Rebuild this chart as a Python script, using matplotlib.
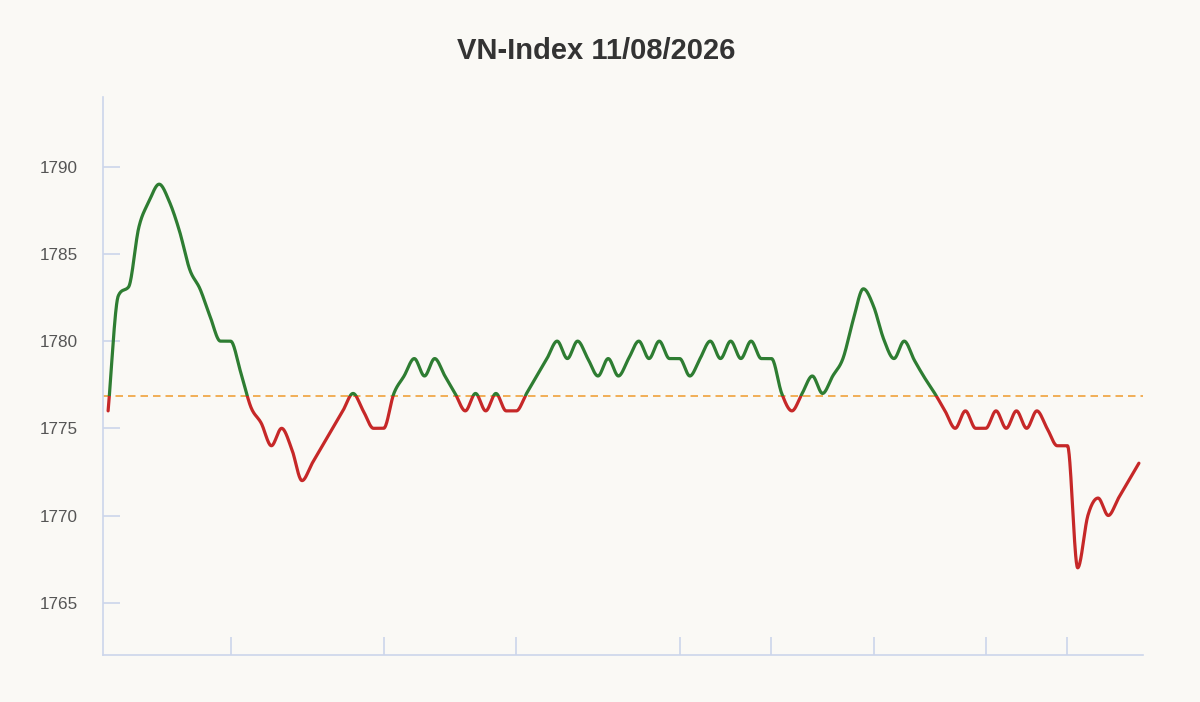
import numpy as np
import matplotlib
matplotlib.use('Agg')
import matplotlib.pyplot as plt
from matplotlib.patches import Rectangle

# VN-Index intraday points (evenly spaced)
index_values = [1776, 1782.6, 1783.1, 1786.5, 1788, 1789,
                1788, 1786.3, 1784.1, 1783, 1781.4, 1780, 1780, 1778.2, 1776.2, 1775.3, 1774, 1775, 1773.8, 1772,
                1773, 1774, 1775, 1776, 1777,
                1776, 1775, 1775, 1777, 1778, 1779, 1778, 1779, 1778, 1777, 1776, 1777, 1776, 1777, 1776, 1776,
                1777, 1778, 1779, 1780, 1779, 1780, 1779, 1778, 1779, 1778, 1779, 1780, 1779, 1780, 1779, 1779,
                1778, 1779, 1780, 1779, 1780, 1779, 1780, 1779, 1779,
                1777, 1776, 1777, 1778, 1777, 1778, 1779, 1781.2, 1783, 1782, 1780.1, 1779, 1780, 1778.9, 1777.9,
                1777, 1776,
                1775, 1776, 1775, 1775, 1776, 1775, 1776, 1775, 1776, 1775, 1774, 1774, 1767, 1770, 1771, 1770,
                1771, 1772, 1773]
reference_value = 1776.83
x_tick_points = [12, 27, 40, 56, 65, 75, 86, 94]
y_tick_values = [1765, 1770, 1775, 1780, 1785, 1790]
title_text = 'VN-Index 11/08/2026'

green = '#2e7d32'
red = '#c62828'
axis_color = '#ccd6eb'
bg = '#faf9f5'


def monotone_curve(x, y, per_seg=30):
    # Fritsch-Carlson monotone cubic, like chart libs' "monotone" mode
    x = np.asarray(x, dtype=float)
    y = np.asarray(y, dtype=float)
    h = np.diff(x)
    d = np.diff(y) / h
    m = np.zeros(len(y))
    m[0] = d[0]
    m[-1] = d[-1]
    for k in range(1, len(y) - 1):
        if d[k - 1] * d[k] <= 0:
            m[k] = 0.0
        else:
            m[k] = (d[k - 1] + d[k]) / 2
    for k in range(len(d)):
        if d[k] == 0:
            m[k] = 0.0
            m[k + 1] = 0.0
            continue
        a = m[k] / d[k]
        b = m[k + 1] / d[k]
        s = a * a + b * b
        if s > 9:
            t = 3 / np.sqrt(s)
            m[k] = t * a * d[k]
            m[k + 1] = t * b * d[k]
    xs = []
    ys = []
    for k in range(len(d)):
        t = np.linspace(0, 1, per_seg, endpoint=False)
        h00 = 2 * t**3 - 3 * t**2 + 1
        h10 = t**3 - 2 * t**2 + t
        h01 = -2 * t**3 + 3 * t**2
        h11 = t**3 - t**2
        xs.append(x[k] + t * h[k])
        ys.append(h00 * y[k] + h10 * h[k] * m[k] + h01 * y[k + 1] + h11 * h[k] * m[k + 1])
    xs.append([x[-1]])
    ys.append([y[-1]])
    return np.concatenate(xs), np.concatenate(ys)


plt.rcParams['font.family'] = ['Liberation Sans', 'DejaVu Sans']

fig = plt.figure(figsize=(12, 7.02), dpi=100, facecolor=bg)
ax = fig.add_axes([103 / 1200, 47 / 702, 1040 / 1200, 558 / 702])
ax.set_facecolor(bg)

points = np.arange(len(index_values))
cx, cy = monotone_curve(points, index_values)

y_min, y_max = 1762, 1794
x_min, x_max = -0.5, len(index_values) - 0.6

above = Rectangle((x_min, reference_value), x_max - x_min, y_max - reference_value, transform=ax.transData)
below = Rectangle((x_min, y_min), x_max - x_min, reference_value - y_min, transform=ax.transData)

line_up, = ax.plot(cx, cy, color=green, lw=2.3, solid_capstyle='round', zorder=3)
line_up.set_clip_path(above)
line_dn, = ax.plot(cx, cy, color=red, lw=2.3, solid_capstyle='round', zorder=3)
line_dn.set_clip_path(below)

ax.axhline(reference_value, color='#f0a23c', lw=1.2, linestyle=(0, (4.5, 3)), zorder=2)

ax.set_xlim(x_min, x_max)
ax.set_ylim(y_min, y_max)
ax.set_yticks(y_tick_values)
ax.set_xticks(x_tick_points)
ax.set_xticklabels([])
ax.tick_params(axis='y', direction='in', length=12, width=1.2, color=axis_color,
               labelsize=12.3, labelcolor='#555555', pad=18)
ax.tick_params(axis='x', direction='in', length=13, width=1.2, color=axis_color)

for side in ['top', 'right']:
    ax.spines[side].set_visible(False)
for side in ['left', 'bottom']:
    ax.spines[side].set_color(axis_color)
    ax.spines[side].set_linewidth(1.2)

fig.text(0.497, 0.927, title_text, ha='center', va='center', fontsize=21,
         fontweight='bold', color='#333333')

fig.savefig('out.png', dpi=100, facecolor=bg)
